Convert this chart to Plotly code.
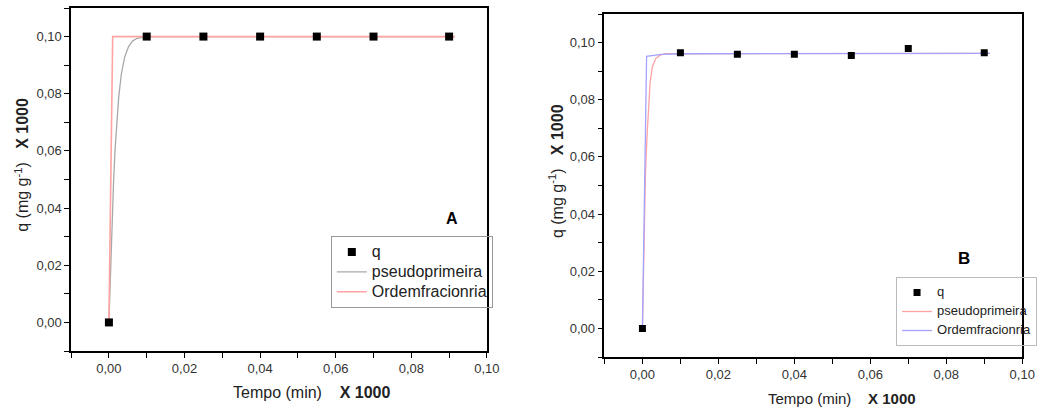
import plotly.graph_objects as go

W, H = 1053, 409

# ---- Panel A data ----
A_t = [0, 0.01, 0.025, 0.04, 0.055, 0.07, 0.09]
A_q = [0, 0.1, 0.1, 0.1, 0.1, 0.1, 0.1]
A_pseudo_t = [0, 0.0004, 0.0008, 0.0012, 0.0016, 0.002, 0.0026, 0.0033, 0.0042, 0.0052, 0.0063, 0.0075, 0.0088, 0.01, 0.0915]
A_pseudo_q = [0, 0.018, 0.034, 0.048, 0.060, 0.069, 0.079, 0.087, 0.093, 0.0965, 0.0985, 0.0994, 0.0998, 0.1, 0.1]
A_frac_t = [0, 0.001, 0.0915]
A_frac_q = [0, 0.1, 0.1]

# ---- Panel B data ----
B_t = [0, 0.01, 0.025, 0.04, 0.055, 0.07, 0.09]
B_q = [0, 0.0964, 0.0959, 0.0959, 0.0955, 0.0979, 0.0964]
B_pseudo_t = [0, 0.0004, 0.0008, 0.0012, 0.0016, 0.002, 0.0026, 0.0035, 0.0046, 0.006, 0.0915]
B_pseudo_q = [0, 0.032, 0.054, 0.067, 0.077, 0.0856, 0.0915, 0.0944, 0.0955, 0.0961, 0.0962]
B_frac_t = [0, 0.0011, 0.005, 0.01, 0.0915]
B_frac_q = [0, 0.0952, 0.0959, 0.0961, 0.0962]

names = ["q", "pseudoprimeira", "Ordemfracionria"]
x_ticks = [0, 0.02, 0.04, 0.06, 0.08, 0.10]
y_ticks = [0, 0.02, 0.04, 0.06, 0.08, 0.10]

FONT = "Liberation Sans, Arial, sans-serif"

def lname(n, px):
    return '<span style="font-size:%dpx">%s</span>' % (px, n)

fig = go.Figure()

# Panel A
fig.add_trace(go.Scatter(x=A_pseudo_t, y=A_pseudo_q, mode="lines", name=lname(names[1], 16),
                         line=dict(color="#a8a8a8", width=1.3), xaxis="x", yaxis="y",
                         legend="legend", legendrank=2))
fig.add_trace(go.Scatter(x=A_frac_t, y=A_frac_q, mode="lines", name=lname(names[2], 16),
                         line=dict(color="#ffa3a3", width=1.6), xaxis="x", yaxis="y",
                         legend="legend", legendrank=3))
fig.add_trace(go.Scatter(x=A_t, y=A_q, mode="markers", name=lname(names[0], 16),
                         marker=dict(symbol="square", size=8, color="black"),
                         xaxis="x", yaxis="y", legend="legend", legendrank=1))

# Panel B
fig.add_trace(go.Scatter(x=B_pseudo_t, y=B_pseudo_q, mode="lines", name=lname(names[1], 13),
                         line=dict(color="#ffa3a3", width=1.3), xaxis="x2", yaxis="y2",
                         legend="legend2", legendrank=2))
fig.add_trace(go.Scatter(x=B_frac_t, y=B_frac_q, mode="lines", name=lname(names[2], 13),
                         line=dict(color="#a3a3ff", width=1.3), xaxis="x2", yaxis="y2",
                         legend="legend2", legendrank=3))
fig.add_trace(go.Scatter(x=B_t, y=B_q, mode="markers", name=lname(names[0], 13),
                         marker=dict(symbol="square", size=7, color="black"),
                         xaxis="x2", yaxis="y2", legend="legend2", legendrank=1))

def xaxis(domain, anchor):
    return dict(domain=domain, anchor=anchor, range=[-0.01, 0.10], tickvals=x_ticks,
                tickformat=".2f", showgrid=False, zeroline=False, showline=True,
                linecolor="black", linewidth=1.5, mirror=True, ticks="outside",
                ticklen=5, tickwidth=1, tickcolor="black",
                minor=dict(dtick=0.01, tick0=0, ticks="outside", ticklen=5, tickcolor="black", showgrid=False),
                tickfont=dict(family=FONT, size=13, color="#333"))

def yaxis(domain, anchor):
    return dict(domain=domain, anchor=anchor, range=[-0.01, 0.11], tickvals=y_ticks,
                tickformat=".2f", showgrid=False, zeroline=False, showline=True,
                linecolor="black", linewidth=1.5, mirror=True, ticks="outside",
                ticklen=5, tickwidth=1, tickcolor="black",
                minor=dict(dtick=0.01, tick0=0, ticks="outside", ticklen=5, tickcolor="black", showgrid=False),
                tickfont=dict(family=FONT, size=13, color="#333"))

fig.update_layout(
    width=W, height=H,
    margin=dict(l=0, r=0, t=0, b=0),
    paper_bgcolor="white", plot_bgcolor="white",
    separators=", ",
    font=dict(family=FONT, color="#222"),
    xaxis=xaxis([72 / W, 493 / W], "y"),
    yaxis=yaxis([1 - 351 / H, 1 - 8 / H], "x"),
    xaxis2=xaxis([612 / W, 1035 / W], "y2"),
    yaxis2=yaxis([1 - 357 / H, 1 - 14 / H], "x2"),
    legend=dict(x=499 / W, xanchor="right", y=1 - 236 / H, yanchor="top",
                bordercolor="#999", borderwidth=1, bgcolor="rgba(255,255,255,0)",
                font=dict(family=FONT, size=13, color="#222"), traceorder="normal",
                tracegroupgap=0),
    legend2=dict(x=1050 / W, xanchor="right", y=1 - 277 / H, yanchor="top",
                 bordercolor="#bbb", borderwidth=1, bgcolor="rgba(255,255,255,0)",
                 font=dict(family=FONT, size=10, color="#222"), traceorder="normal",
                 tracegroupgap=0),
    showlegend=True,
)

ann = [
    dict(text="Tempo (min)    <b>X 1000</b>", x=315.5 / W, y=1 - 392 / H, size=16),
    dict(text="q (mg g<sup>-1</sup>)   <b>X 1000</b>", x=22 / W, y=1 - 165 / H, textangle=-90, size=16),
    dict(text="Tempo (min)    <b>X 1000</b>", x=852.5 / W, y=1 - 398 / H, size=15),
    dict(text="q (mg g<sup>-1</sup>)   <b>X 1000</b>", x=563 / W, y=1 - 171 / H, textangle=-90, size=16),
]
for a in ann:
    s = a.pop("size")
    fig.add_annotation(xref="paper", yref="paper", showarrow=False,
                       xanchor="center", yanchor="middle",
                       font=dict(family=FONT, size=s, color="#222"), **a)

fig.add_annotation(xref="paper", yref="paper", x=458 / W, y=1 - 218 / H, text="<b>A</b>",
                   showarrow=False, font=dict(family=FONT, size=16, color="black"))
fig.add_annotation(xref="paper", yref="paper", x=984 / W, y=1 - 258 / H, text="<b>B</b>",
                   showarrow=False, font=dict(family=FONT, size=17, color="black"))

fig.write_html("out.html")
